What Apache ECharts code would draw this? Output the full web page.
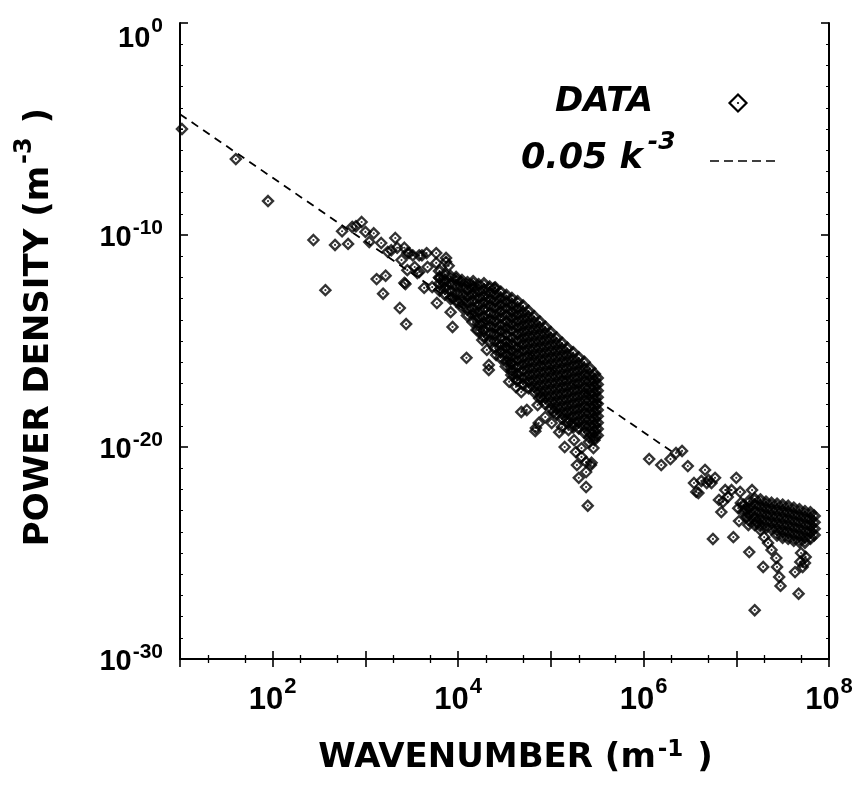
<!DOCTYPE html>
<html><head><meta charset="utf-8">
<script src="https://cdn.jsdelivr.net/npm/echarts@6/dist/echarts.min.js"></script>
<style>html,body{margin:0;padding:0;background:#fff}#c{width:860px;height:795px}</style>
</head><body><div id="c"></div>
<script>
// ---------- axis ticks / labels ----------
const xDecades = [10, 100, 1e3, 1e4, 1e5, 1e6, 1e7, 1e8];
const xLabelValues = [100, 1e4, 1e6, 1e8];
const xMinorTicks = [20, 50, 200, 500, 2e3, 5e3, 2e4, 5e4, 2e5, 5e5, 2e6, 5e6, 2e7, 5e7];
const yLabelValues = [1e-30, 1e-20, 1e-10, 1];
const yMinorTicks = [1e-29,1e-28,1e-27,1e-26,1e-25,1e-24,1e-23,1e-22,1e-21,1e-19,1e-18,1e-17,1e-16,1e-15,1e-14,1e-13,1e-12,1e-11,1e-9,1e-8,1e-7,1e-6,1e-5,1e-4,1e-3,1e-2,1e-1];

// ---------- fit line 0.05 k^-3 (end points) ----------
const fitK = [10, 2e6];
const fitP = [5e-5, 6.25e-21];

// ---------- data: sparse points [k, P] ----------
const lowBand = [
 [10.5,1.0e-5],[40,3.8e-7],[89,4.0e-9],[275,5.8e-11],[370,2.5e-13],[470,3.4e-11],[560,1.5e-10],[650,3.8e-11],
 [720,2.4e-10],[790,2.6e-10],[910,4.1e-10],[1000,1.4e-10],[1230,1.2e-10],[1100,4.7e-11],[1480,4.2e-11],[2100,7.2e-11],
 [1900,1.9e-11],[2200,2.5e-11],[2450,6.6e-12],[2830,1.4e-11],[1320,8.3e-13],[1650,1.2e-12],[1550,1.7e-13],[2700,4.9e-13],
 [2350,3.6e-14],[2750,6.3e-15],[1740,1.6e-11],[2830,2.2e-12],[2630,2.5e-11],[2950,1.4e-11],[3400,3.1e-12],[3800,1.8e-12],
 [4300,3.2e-13],[2630,5.5e-13],[4070,1.1e-11],[4680,3.1e-12],[3240,1.1e-11],[3800,1.1e-11],[4570,1.4e-11],[3630,1.6e-12],
 [5250,3.5e-13],[6300,9.3e-13],[7400,5.4e-12],[5800,4.8e-12],[7900,3.5e-12],[5900,6.2e-14],[8700,4.6e-15],[8700,1.1e-13],
 [8300,2.3e-14],[1.02e4,6.2e-14],[1.23e4,1.6e-16],[1.58e4,3.3e-15],[1.82e4,1.1e-15],[2.04e4,3.8e-16],[2.14e4,7.4e-17],
 [2.57e4,2.2e-16],[2.45e4,3.2e-13],[1.41e4,4.4e-13],[1.07e4,6.0e-13],[9.5e3,1.05e-12],[7100,5.5e-13],[5800,1.4e-11],[7400,8.3e-12]
];
const lowFringe = [
 [3.3e4,5.2e-16],[3.7e4,9.1e-17],[3.8e4,3.5e-17],[4.3e4,1.4e-17],[3.55e4,1.2e-17],[4.2e4,6.8e-18],[4.8e4,3.9e-18],[4.8e4,4.5e-19],
 [6.8e4,5.6e-20],[7.4e4,1.35e-19],[6.9e4,7.9e-20],[7.2e4,9.5e-19],[7.8e4,2.3e-18],[1.02e5,1.35e-19],[1.07e5,4.5e-19],[1.32e5,8.7e-20],
 [1.55e5,6.3e-20],[1.41e5,1e-20],[1.86e5,5.8e-21],[2.14e5,8.9e-21],[2.88e5,8.9e-21],[1.91e5,1.4e-21],[2.4e5,1.95e-21],[2.7e5,1.4e-21],
 [2.0e5,3.5e-22],[2.4e5,6.6e-22],[2.4e5,1.3e-22],[2.5e5,1.7e-23],[2.75e5,1.8e-21],[2.14e5,3.4e-21],[2.14e4,4.3e-17],[2.95e5,2.1e-20],
 [2.57e5,1.7e-20],[1.78e5,2.1e-20],[1.23e5,5.0e-20],[5.5e4,5.6e-19],[8.7e4,2.6e-19]
];
const highBand = [
 [1.15e6,2.7e-21],[1.55e6,1.4e-21],[1.95e6,2.7e-21],[2.24e6,5.2e-21],[2.6e6,6.5e-21],[3.0e6,1.26e-21],[4.6e6,8.3e-22],[3.5e6,2.0e-22],
 [3.7e6,7.6e-23],[4.2e6,2.5e-22],[4.8e6,2.0e-22],[5.0e6,2.8e-22],[5.9e6,3.5e-22],[5.4e6,2.0e-22],[1.0e7,3.5e-22],[3.9e6,6.8e-23],
 [7.6e6,9.3e-23],[8.9e6,9.3e-23],[1.1e7,7.6e-23],[8.1e6,4.4e-23],[6.5e6,3.2e-23],[7.2e6,2.6e-23],[1.48e7,9.3e-23],[6.9e6,8.5e-24],
 [1.12e7,2.3e-23],[1.05e7,1.3e-23],[1.26e7,1.07e-23],[5.6e6,4.6e-25],[9.3e6,5.6e-25],[1.38e7,1.1e-25],[1.95e7,2.2e-26],[1.07e7,3.2e-24],
 [1.29e7,5.0e-24],[1.35e7,2.1e-24],[1.66e7,2.9e-24],[1.82e7,1.2e-24],[2.0e7,5.6e-25],[2.2e7,3.0e-25],[2.4e7,1.4e-25],[2.7e7,5.8e-26],
 [2.75e7,2.2e-26],[2.9e7,7.4e-27],[3.0e7,2.8e-27],[1.58e7,2.0e-28],[4.3e7,1.26e-26],[4.7e7,1.2e-27],[5.0e7,1e-25],[5.5e7,3.4e-26],
 [4.9e7,3.8e-26],[5.6e7,6.5e-26],[5.2e7,2.2e-26]
];

// ---------- dense cluster 6e3 .. 3e5, read column by column ----------
const bandK = [6.3e3,7.2e3,8.3e3,9.5e3,1.1e4,1.26e4,1.45e4,1.66e4,1.9e4,2.19e4,2.51e4,2.88e4,3.31e4,3.8e4,4.37e4,
               5.01e4,5.75e4,6.61e4,7.59e4,8.71e4,1.0e5,1.15e5,1.32e5,1.51e5,1.74e5,2.0e5,2.29e5,2.63e5,2.95e5,3.16e5];
const bandP = [
 [2.0e-12,1.0e-12,5.0e-13,2.5e-13],
 [1.4e-12,7.1e-13,3.2e-13,1.6e-13],
 [1.1e-12,5.0e-13,2.2e-13,1.0e-13],
 [7.9e-13,4.0e-13,1.8e-13,7.9e-14],
 [7.1e-13,3.5e-13,1.6e-13,7.9e-14,4.0e-14],
 [5.6e-13,2.8e-13,1.4e-13,7.1e-14,3.2e-14,1.6e-14],
 [6.3e-13,3.2e-13,1.6e-13,7.9e-14,3.5e-14,1.8e-14,7.9e-15],
 [4.5e-13,2.2e-13,1.1e-13,5.0e-14,2.5e-14,1.3e-14,6.3e-15,3.2e-15],
 [5.0e-13,2.5e-13,1.3e-13,6.3e-14,3.2e-14,1.4e-14,7.1e-15,3.2e-15,1.6e-15],
 [3.5e-13,1.8e-13,8.9e-14,4.5e-14,2.0e-14,1.0e-14,5.0e-15,2.2e-15,1.0e-15],
 [3.2e-13,1.6e-13,7.9e-14,4.0e-14,1.8e-14,8.9e-15,4.5e-15,2.0e-15,1.0e-15,4.5e-16],
 [2.0e-13,1.0e-13,5.0e-14,2.5e-14,1.3e-14,5.6e-15,2.8e-15,1.4e-15,6.3e-16,3.2e-16,1.6e-16],
 [1.4e-13,7.1e-14,3.5e-14,1.6e-14,7.9e-15,4.0e-15,2.0e-15,8.9e-16,4.5e-16,2.2e-16,1.1e-16,6.3e-17],
 [1.0e-13,5.0e-14,2.5e-14,1.3e-14,6.3e-15,3.2e-15,1.4e-15,7.1e-16,3.5e-16,1.8e-16,8.9e-17,4.5e-17,2.5e-17],
 [7.1e-14,3.5e-14,1.8e-14,8.9e-15,4.5e-15,2.2e-15,1.1e-15,5.0e-16,2.5e-16,1.3e-16,6.3e-17,2.8e-17,1.4e-17],
 [4.5e-14,2.2e-14,1.1e-14,5.6e-15,2.8e-15,1.4e-15,7.1e-16,3.5e-16,1.6e-16,7.9e-17,4.0e-17,1.8e-17,8.9e-18],
 [2.5e-14,1.3e-14,6.3e-15,3.2e-15,1.6e-15,7.9e-16,4.0e-16,2.0e-16,1.0e-16,5.0e-17,2.5e-17,1.3e-17,6.3e-18],
 [1.4e-14,7.1e-15,3.5e-15,1.8e-15,8.9e-16,4.5e-16,2.2e-16,1.1e-16,5.6e-17,2.8e-17,1.4e-17,7.1e-18,4.0e-18],
 [7.9e-15,4.0e-15,2.0e-15,1.0e-15,5.0e-16,2.5e-16,1.3e-16,6.3e-17,3.2e-17,1.6e-17,7.9e-18,4.0e-18,2.0e-18],
 [4.5e-15,2.2e-15,1.1e-15,5.6e-16,2.8e-16,1.4e-16,7.1e-17,3.5e-17,1.8e-17,8.9e-18,4.5e-18,2.2e-18,1.1e-18],
 [2.5e-15,1.3e-15,6.3e-16,3.2e-16,1.6e-16,7.9e-17,4.0e-17,2.0e-17,1.0e-17,5.0e-18,2.5e-18,1.3e-18,6.3e-19],
 [1.4e-15,7.1e-16,3.5e-16,1.8e-16,8.9e-17,4.5e-17,2.2e-17,1.1e-17,5.6e-18,2.8e-18,1.4e-18,7.1e-19,3.5e-19],
 [7.9e-16,4.0e-16,2.0e-16,1.0e-16,5.0e-17,2.5e-17,1.3e-17,6.3e-18,3.2e-18,1.6e-18,7.9e-19,4.0e-19,2.2e-19],
 [4.5e-16,2.2e-16,1.1e-16,5.6e-17,2.8e-17,1.4e-17,7.1e-18,3.5e-18,1.8e-18,8.9e-19,4.5e-19,2.2e-19,1.4e-19],
 [2.8e-16,1.4e-16,7.1e-17,3.5e-17,1.8e-17,8.9e-18,4.5e-18,2.2e-18,1.1e-18,5.6e-19,2.8e-19,1.4e-19,8.9e-20],
 [1.6e-16,7.9e-17,4.0e-17,2.0e-17,1.0e-17,5.0e-18,2.5e-18,1.3e-18,6.3e-19,3.2e-19,1.6e-19,7.9e-20],
 [1.0e-16,5.0e-17,2.5e-17,1.3e-17,6.3e-18,3.2e-18,1.6e-18,7.9e-19,4.0e-19,2.0e-19,1.0e-19,5.0e-20],
 [5.0e-17,2.5e-17,1.3e-17,6.3e-18,3.2e-18,1.6e-18,7.9e-19,4.0e-19,2.0e-19,1.0e-19,5.0e-20,2.8e-20],
 [2.8e-17,1.4e-17,7.1e-18,3.5e-18,1.8e-18,8.9e-19,4.5e-19,2.2e-19,1.1e-19,5.6e-20,2.8e-20],
 [1.8e-17,8.9e-18,4.5e-18,2.2e-18,1.1e-18,5.6e-19,2.8e-19,1.4e-19,7.1e-20,3.5e-20]
];

// ---------- dense cluster 1e7 .. 7e7 ----------
const tailK = [1.2e7,1.38e7,1.58e7,1.82e7,2.09e7,2.4e7,2.75e7,3.16e7,3.63e7,4.17e7,4.79e7,5.5e7,6.31e7,6.9e7];
const tailP = [
 [1.8e-23,8.9e-24],
 [2.8e-23,1.4e-23,7.1e-24,3.5e-24],
 [3.5e-23,1.8e-23,8.9e-24,4.5e-24,2.2e-24],
 [3.2e-23,1.6e-23,7.9e-24,4.0e-24,2.0e-24],
 [2.5e-23,1.3e-23,6.3e-24,3.2e-24,1.6e-24],
 [2.2e-23,1.1e-23,5.6e-24,2.8e-24,1.4e-24],
 [2.0e-23,1.0e-23,5.0e-24,2.5e-24,1.3e-24,7.1e-25],
 [1.8e-23,8.9e-24,4.5e-24,2.2e-24,1.1e-24,5.6e-25],
 [1.6e-23,7.9e-24,4.0e-24,2.0e-24,1.0e-24,5.0e-25],
 [1.3e-23,6.3e-24,3.2e-24,1.6e-24,7.9e-25,4.0e-25],
 [1.1e-23,5.6e-24,2.8e-24,1.4e-24,7.1e-25,3.5e-25],
 [8.9e-24,4.5e-24,2.2e-24,1.1e-24,5.6e-25,3.2e-25],
 [7.9e-24,4.0e-24,2.0e-24,1.0e-24,5.0e-25],
 [5.6e-24,2.8e-24,1.4e-24,7.1e-25]
];

// ---------- build ----------
const sparsePts = [].concat(lowBand, lowFringe, highBand);
const densePts = [];
bandK.forEach((k, i) => bandP[i].forEach(p => densePts.push([k, p])));
tailK.forEach((k, i) => tailP[i].forEach(p => densePts.push([k, p])));
const allPts = sparsePts.concat(densePts);
const fitLine = fitK.map((k, i) => [k, fitP[i]]);

const FONT = '"Liberation Sans", Arial, Helvetica, sans-serif';
const WIDE = '"DejaVu Sans", Verdana, sans-serif';
const chart = echarts.init(document.getElementById('c'), null, {renderer: 'canvas'});

function expo(v) { return Math.round(Math.log10(v)); }

const bold = (ff, fs, lh, va, pad) => {
  const s = {fontFamily: ff, fontWeight: 'bold', fontSize: fs, lineHeight: lh, color: '#000', verticalAlign: va};
  if (pad) s.padding = pad;
  return s;
};
const xLabelRich = {
  b: bold(FONT, 31, 40, 'bottom'),
  s: bold(FONT, 22, 22, 'top', [0, 0, 0, 1])
};
const yLabelRich = {
  b: bold(FONT, 29, 35, 'bottom'),
  s: bold(FONT, 21, 21, 'top', [0, 0, 0, 1]),
  bt: bold(FONT, 29, 61, 'bottom'),
  st: bold(FONT, 21, 21, 'top', [23, 0, 0, 1])
};

const axisLineStyle = {color: '#000', width: 2};
function xAxisDef(pos, major, withLabels) {
  const a = {
    type: 'log', logBase: 10, min: 10, max: 1e8, position: pos, gridIndex: 0,
    splitLine: {show: false}, minorTick: {show: false},
    axisLine: {show: major, lineStyle: axisLineStyle},
    axisTick: {show: true, inside: true, length: major ? 8 : 4, lineStyle: {color: '#000', width: major ? 1.6 : 1.3},
               customValues: major ? xDecades : xMinorTicks},
    axisLabel: {show: false}
  };
  if (withLabels) {
    a.axisLabel = {show: true, customValues: xLabelValues, margin: 17,
      formatter: v => '{b|10}{s|' + expo(v) + '}', rich: xLabelRich};
    a.name = '{t|WAVENUMBER (m}{s|-1}{t| )}';
    a.nameLocation = 'middle';
    a.nameGap = 80;
    a.nameMoveOverlap = false;
    a.nameTextStyle = {rich: {t: bold(WIDE, 34, 36, 'bottom'), s: bold(WIDE, 23, 23, 'top', [0, 2, 0, 2])},
                       padding: [0, 0, 0, 22]};
  }
  return a;
}
function yAxisDef(pos, major, withLabels) {
  const a = {
    type: 'log', logBase: 10, min: 1e-30, max: 1, position: pos, gridIndex: 0,
    splitLine: {show: false}, minorTick: {show: false},
    axisLine: {show: major, lineStyle: axisLineStyle},
    axisTick: {show: true, inside: true, length: major ? 8 : 3, lineStyle: {color: '#000', width: major ? 1.6 : 1},
               customValues: major ? yLabelValues : yMinorTicks},
    axisLabel: {show: false}
  };
  if (withLabels) {
    a.axisLabel = {show: true, customValues: yLabelValues, margin: 17,
      formatter: v => { const e = expo(v); return e === 0 ? '{bt|10}{st|0}' : '{b|10}{s|' + e + '}'; },
      rich: yLabelRich};
    a.name = '{t|POWER DENSITY (m}{s|-3}{t| )}';
    a.nameLocation = 'middle';
    a.nameGap = 124;
    a.nameMoveOverlap = false;
    a.nameTextStyle = {rich: {t: bold(WIDE, 34, 43, 'bottom'), s: bold(WIDE, 24, 24, 'top', [0, 2, 0, 2])},
                       padding: [0, 0, 0, 28]};
  }
  return a;
}

const diamondSeries = (data, bw) => ({
  name: 'DATA', type: 'scatter', xAxisIndex: 0, yAxisIndex: 0, data: data, symbol: 'diamond', symbolSize: 10,
  itemStyle: {color: 'rgba(255,255,255,0)', borderColor: '#000', borderWidth: bw}, silent: true, z: 3, large: false
});

const option = {
  animation: false,
  backgroundColor: '#fff',
  grid: {left: 180, right: 31, top: 23, bottom: 136, containLabel: false, outerBoundsMode: 'none'},
  xAxis: [xAxisDef('bottom', true, true), xAxisDef('bottom', false, false), xAxisDef('top', true, false), xAxisDef('top', false, false)],
  yAxis: [yAxisDef('left', true, true), yAxisDef('left', false, false), yAxisDef('right', true, false), yAxisDef('right', false, false)],
  series: [
    {name: '0.05 k^-3', type: 'line', xAxisIndex: 0, yAxisIndex: 0, data: fitLine, showSymbol: false, symbol: 'none',
     lineStyle: {color: '#000', width: 1.8, type: [8, 6]}, silent: true, z: 2},
    diamondSeries(sparsePts, 2.4),
    diamondSeries(densePts, 3.2),
    {name: 'DATA-dot', type: 'scatter', xAxisIndex: 0, yAxisIndex: 0, data: allPts, symbol: 'circle', symbolSize: 2.2,
     itemStyle: {color: '#000'}, silent: true, z: 3, large: false}
  ],
  graphic: [
    {type: 'text', x: 555, y: 102, silent: true,
     style: {text: 'DATA', font: 'italic bold 34px ' + WIDE, fill: '#000', align: 'left', verticalAlign: 'middle'}},
    {type: 'polygon', silent: true, shape: {points: [[738, 94.5], [746.5, 103], [738, 111.5], [729.5, 103]]},
     style: {fill: 'none', stroke: '#000', lineWidth: 2.2}},
    {type: 'circle', silent: true, shape: {cx: 738, cy: 103, r: 1.1}, style: {fill: '#000'}},
    {type: 'text', x: 521, y: 153, silent: true,
     style: {text: '{a|0.05 k}{b|-3}', align: 'left', verticalAlign: 'middle',
       rich: {a: {font: 'italic bold 35px ' + WIDE, lineHeight: 46, fill: '#000', verticalAlign: 'bottom'},
              b: {font: 'italic bold 25px ' + WIDE, lineHeight: 25, fill: '#000', verticalAlign: 'top', padding: [0, 0, 0, 5]}}}},
    {type: 'line', silent: true, shape: {x1: 710, y1: 161, x2: 778, y2: 161},
     style: {stroke: '#000', lineWidth: 1.6, lineDash: [9, 5]}}
  ]
};
chart.setOption(option);
</script>
</body></html>
